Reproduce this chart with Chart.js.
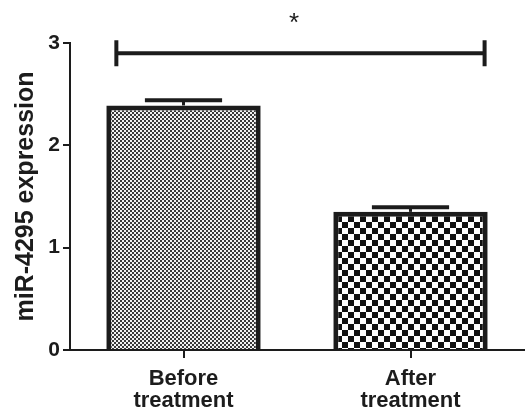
<!DOCTYPE html>
<html>
<head>
<meta charset="utf-8">
<script src="https://cdn.jsdelivr.net/npm/chart.js@4/dist/chart.umd.min.js"></script>
<style>
  html, body { margin: 0; padding: 0; background: #ffffff; }
  #wrap { width: 529px; height: 417px; }
</style>
</head>
<body>
<div id="wrap"><canvas id="chart" width="529" height="417"></canvas></div>
<script>
// Group labels (two-line), mean expression and SEM per group
const categories = [['Before', 'treatment'], ['After', 'treatment']];
const meanExpression = [2.39, 1.35];
const semExpression = [0.05, 0.045];
const yTicks = [0, 1, 2, 3];
const yTitle = 'miR-4295 expression';
// Significance bracket between the two groups
const significanceLevel = 2.9;
const significanceMark = '*';

const INK = '#1c1c1c';
const FONT = "'Liberation Sans', Arial, Helvetica, sans-serif";

// Fine grey checker for the first bar
function fineChecker() {
  const c = document.createElement('canvas');
  c.width = 4; c.height = 4;
  const g = c.getContext('2d');
  g.fillStyle = '#f2f2f2';
  g.fillRect(0, 0, 4, 4);
  g.fillStyle = '#3a3a3a';
  g.fillRect(0, 0, 2, 2);
  g.fillRect(2, 2, 2, 2);
  return g.createPattern(c, 'repeat');
}

// Coarse black/white checker for the second bar
function coarseChecker() {
  const s = 12;
  const c = document.createElement('canvas');
  c.width = s; c.height = s;
  const g = c.getContext('2d');
  g.fillStyle = '#ffffff';
  g.fillRect(0, 0, s, s);
  g.fillStyle = '#111111';
  g.fillRect(0, 0, 6, 6);
  g.fillRect(6, 6, 6, 6);
  return g.createPattern(c, 'repeat');
}

const ctx = document.getElementById('chart').getContext('2d');

const errorBars = {
  id: 'errorBars',
  afterDatasetsDraw(chart) {
    const { ctx, scales: { y } } = chart;
    const meta = chart.getDatasetMeta(0);
    ctx.save();
    ctx.strokeStyle = INK;
    meta.data.forEach((bar, i) => {
      const top = y.getPixelForValue(meanExpression[i] + semExpression[i]);
      const half = bar.width * 0.25;
      ctx.lineWidth = 3;
      ctx.beginPath();
      ctx.moveTo(bar.x, bar.y);
      ctx.lineTo(bar.x, top);
      ctx.stroke();
      ctx.lineWidth = 4;
      ctx.beginPath();
      ctx.moveTo(bar.x - half, top);
      ctx.lineTo(bar.x + half, top);
      ctx.stroke();
    });
    ctx.restore();
  }
};

const bracket = {
  id: 'bracket',
  afterDatasetsDraw(chart) {
    const { ctx, scales: { y } } = chart;
    const bars = chart.getDatasetMeta(0).data;
    const left = bars[0].x - bars[0].width * 0.435;
    const right = bars[1].x + bars[1].width * 0.48;
    const yy = y.getPixelForValue(significanceLevel);
    ctx.save();
    ctx.strokeStyle = INK;
    ctx.lineWidth = 4;
    ctx.beginPath();
    ctx.moveTo(left, yy);
    ctx.lineTo(right, yy);
    ctx.stroke();
    ctx.beginPath();
    ctx.moveTo(left, yy - 13);
    ctx.lineTo(left, yy + 13);
    ctx.moveTo(right, yy - 13);
    ctx.lineTo(right, yy + 13);
    ctx.stroke();
    ctx.fillStyle = INK;
    ctx.font = '26px ' + FONT;
    ctx.textAlign = 'center';
    ctx.textBaseline = 'alphabetic';
    ctx.fillText(significanceMark, (bars[0].x + bars[1].x) / 2 - 3, yy - 22);
    ctx.restore();
  }
};

new Chart(ctx, {
  type: 'bar',
  data: {
    labels: categories,
    datasets: [{
      data: meanExpression,
      backgroundColor: [fineChecker(), coarseChecker()],
      borderColor: INK,
      borderWidth: 5,
      barPercentage: 0.68,
      categoryPercentage: 1.0
    }]
  },
  options: {
    responsive: false,
    animation: false,
    devicePixelRatio: 1,
    layout: { padding: { top: 43, right: 5, left: 0, bottom: 0 } },
    plugins: {
      legend: { display: false },
      tooltip: { enabled: false }
    },
    scales: {
      x: {
        grid: { display: true, drawOnChartArea: false, offset: false, tickLength: 8, color: INK, lineWidth: 2 },
        border: { display: true, color: INK, width: 2 },
        ticks: {
          color: INK,
          padding: 10,
          maxRotation: 0,
          font: { family: FONT, size: 22, weight: 'bold', lineHeight: 1.0 }
        },
        afterFit(scale) { scale.height = 67; }
      },
      y: {
        min: 0,
        max: 3,
        afterBuildTicks(scale) { scale.ticks = yTicks.map(v => ({ value: v })); },
        grid: { display: true, drawOnChartArea: false, tickLength: 7, color: INK, lineWidth: 2 },
        border: { display: true, color: INK, width: 2 },
        ticks: {
          color: INK,
          padding: 3,
          font: { family: FONT, size: 21, weight: 'bold' }
        },
        title: {
          display: true,
          text: yTitle,
          color: INK,
          padding: { top: 11, bottom: 0 },
          font: { family: FONT, size: 25, weight: 'bold', lineHeight: 1.2 }
        },
        afterFit(scale) { scale.width = 70; }
      }
    }
  },
  plugins: [errorBars, bracket]
});
</script>
</body>
</html>
